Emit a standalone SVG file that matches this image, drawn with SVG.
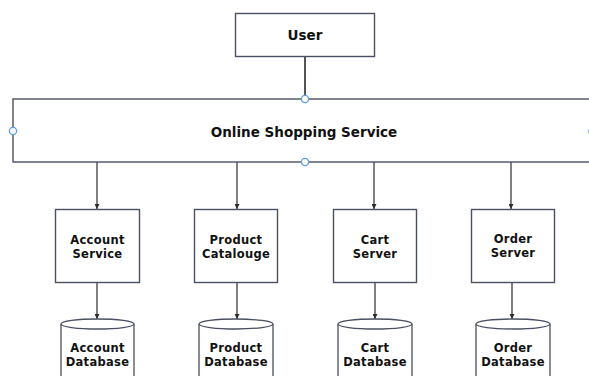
<svg xmlns="http://www.w3.org/2000/svg" width="589" height="376" viewBox="0 0 589 376">
  <defs>
    <marker id="arrow" viewBox="0 0 10 10" refX="10" refY="5" markerWidth="5" markerHeight="5" orient="auto" markerUnits="userSpaceOnUse">
      <path d="M0,0 L10,5 L0,10 Z" fill="#2b2b2b"/>
    </marker>
  </defs>
  <style>
    .box { fill: #ffffff; stroke: #4b4f63; stroke-width: 1.4; }
    .db { fill: #ffffff; stroke: #4b4f63; stroke-width: 1.3; }
    .link { fill: none; stroke: #2b2b2b; stroke-width: 1.2; marker-end: url(#arrow); }
    .handle { fill: #ffffff; stroke: #5b9ee6; stroke-width: 1.3; }
    text { font-family: "DejaVu Sans", Verdana, sans-serif; font-weight: bold; fill: #111111; text-anchor: middle; }
    .lbl { font-size: 11.5px; letter-spacing: 0.3px; }
    .big { font-size: 13.5px; }
  </style>

  <rect width="589" height="376" fill="#ffffff"/>

  <g id="connectors">
    <line x1="305" y1="57" x2="305" y2="99" stroke="#555555" stroke-width="2"/>
    <line class="link" x1="97" y1="162" x2="97" y2="209"/>
    <line class="link" x1="237" y1="162" x2="237" y2="209"/>
    <line class="link" x1="374" y1="162" x2="374" y2="209"/>
    <line class="link" x1="511" y1="162" x2="511" y2="209"/>
    <line class="link" x1="97" y1="283" x2="97" y2="319"/>
    <line class="link" x1="237" y1="283" x2="237" y2="319"/>
    <line class="link" x1="375" y1="283" x2="375" y2="319"/>
    <line class="link" x1="512" y1="283" x2="512" y2="319"/>
  </g>

  <g id="user">
    <rect class="box" x="235.5" y="13.5" width="139" height="43"/>
    <text class="big" x="305" y="39.5">User</text>
  </g>

  <g id="online-shopping-service">
    <rect class="box" x="13" y="99" width="600" height="63"/>
    <text class="big" x="304" y="136.5">Online Shopping Service</text>
    <circle class="handle" cx="305" cy="99" r="3.6"/>
    <circle class="handle" cx="13" cy="131" r="3.6"/>
    <circle class="handle" cx="305" cy="162" r="3.6"/>
    <circle class="handle" cx="592.5" cy="131" r="3.6"/>
  </g>

  <g id="account-service">
    <rect class="box" x="55.5" y="209.5" width="84" height="73"/>
    <text class="lbl" x="97.5" y="244">Account</text>
    <text class="lbl" x="97.5" y="258.3">Service</text>
  </g>

  <g id="product-catalogue">
    <rect class="box" x="194.5" y="209.5" width="83" height="73"/>
    <text class="lbl" x="236" y="244">Product</text>
    <text class="lbl" x="236" y="258.3">Catalouge</text>
  </g>

  <g id="cart-server">
    <rect class="box" x="333.5" y="209.5" width="83" height="73"/>
    <text class="lbl" x="375" y="244">Cart</text>
    <text class="lbl" x="375" y="258.3">Server</text>
  </g>

  <g id="order-server">
    <rect class="box" x="471.5" y="209.5" width="83" height="73"/>
    <text class="lbl" x="513" y="242.5">Order</text>
    <text class="lbl" x="513" y="256.8">Server</text>
  </g>

  <g id="account-database">
    <path class="db" d="M61,324 L61,380 L134,380 L134,324"/>
    <ellipse class="db" cx="97.5" cy="324" rx="36.5" ry="5"/>
    <text class="lbl" x="97.5" y="351.7">Account</text>
    <text class="lbl" x="97.5" y="366">Database</text>
  </g>

  <g id="product-database">
    <path class="db" d="M199,324 L199,380 L273,380 L273,324"/>
    <ellipse class="db" cx="236" cy="324" rx="37" ry="5"/>
    <text class="lbl" x="236" y="351.7">Product</text>
    <text class="lbl" x="236" y="366">Database</text>
  </g>

  <g id="cart-database">
    <path class="db" d="M338,324 L338,380 L412,380 L412,324"/>
    <ellipse class="db" cx="375" cy="324" rx="37" ry="5"/>
    <text class="lbl" x="375" y="351.7">Cart</text>
    <text class="lbl" x="375" y="366">Database</text>
  </g>

  <g id="order-database">
    <path class="db" d="M476,324 L476,380 L550,380 L550,324"/>
    <ellipse class="db" cx="513" cy="324" rx="37" ry="5"/>
    <text class="lbl" x="513" y="351.7">Order</text>
    <text class="lbl" x="513" y="366">Database</text>
  </g>
</svg>
